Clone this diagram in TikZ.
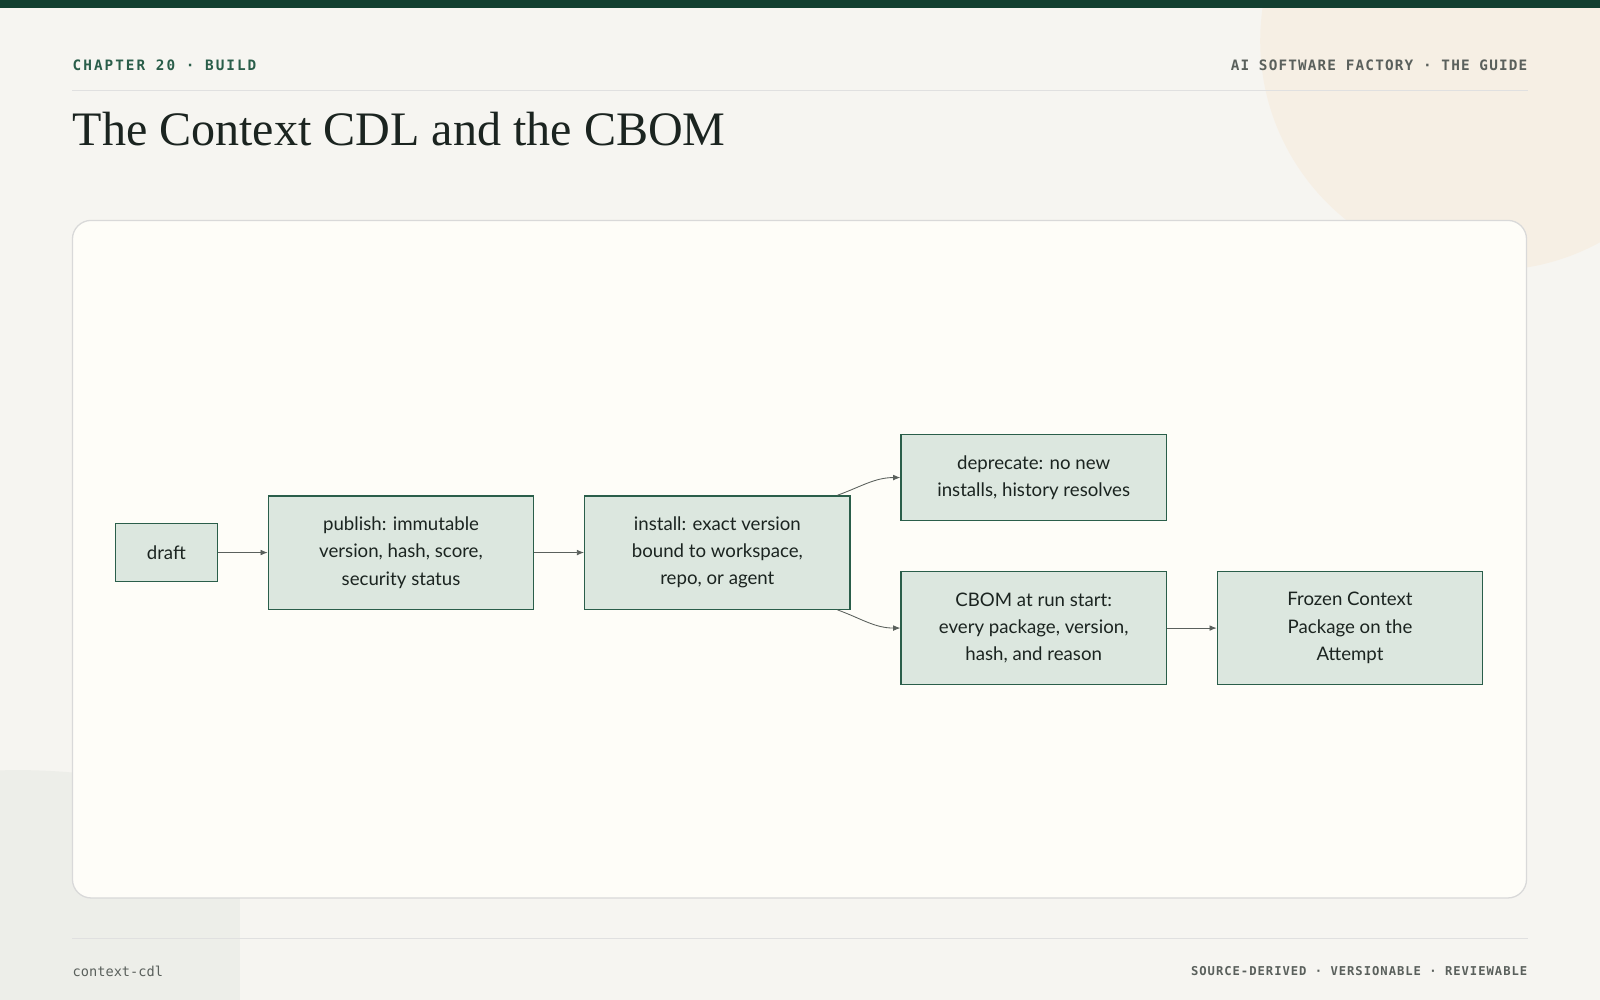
\documentclass[tikz,border=0pt]{standalone}
\usepackage{fontspec}
\setmainfont{Lato}
\newfontfamily\titlefont{Liberation Serif}
\newfontfamily\monofont{DejaVu Sans Mono}
\newfontfamily\widemono[LetterSpace=14]{DejaVu Sans Mono}
\newfontfamily\footmono[LetterSpace=8]{DejaVu Sans Mono}
\usetikzlibrary{positioning,arrows.meta}
\definecolor{paper}{HTML}{F6F5F1}
\definecolor{card}{HTML}{FEFDF8}
\definecolor{pine}{HTML}{123F30}
\definecolor{boxfill}{HTML}{DCE7DF}
\definecolor{boxline}{HTML}{2A5E4A}
\definecolor{peach}{HTML}{F6EFE4}
\definecolor{stone}{HTML}{EDEEE9}
\definecolor{ink}{HTML}{1B2420}
\definecolor{muted}{HTML}{5A605C}
\tikzset{
  stage/.style={draw=boxline, fill=boxfill, line width=0.9pt, align=center,
    font=\fontsize{13}{19}\selectfont, text=ink, minimum width=6.5cm, minimum height=2.775cm, inner sep=0pt},
  flow/.style={draw=muted, line width=0.6pt, -{Latex[length=5pt,width=4pt]}},
  label/.style={font=\widemono\bfseries\fontsize{10}{12}\selectfont, inner sep=0pt}
}
\begin{document}
\begin{tikzpicture}[x=0.025cm,y=-0.025cm]
  % page and decoration
  \useasboundingbox (0,0) rectangle (1568,980);
  \fill[paper] (0,0) rectangle (1568,980);
  \begin{scope}
    \clip (0,0) rectangle (1568,980);
    \fill[peach] (1460,40) circle (225);
    \fill[stone] (0,755) .. controls (80,752) and (235,770) .. (235,830) -- (235,980) -- (0,980) -- cycle;
  \end{scope}
  \fill[pine] (0,0) rectangle (1568,8);

  % header
  \node[label, anchor=west, text=boxline] (chap) at (71,64) {CHAPTER 20 · BUILD};
  \node[label, anchor=east, text=muted, font=\footmono\bfseries\fontsize{10}{12}\selectfont] (guide) at (1497,64) {AI SOFTWARE FACTORY · THE GUIDE};
  \draw[black!12, line width=0.6pt] (71,89) -- (1497,89);
  \node[anchor=base west, inner sep=0pt, text=ink, font=\titlefont\fontsize{33.5}{40}\selectfont] (title) at (71,143) {The Context CDL and the CBOM};

  % card
  \draw[fill=card, draw=black!15, line width=0.9pt, rounded corners=13pt] (71,216) rectangle (1496,880);

  % stages
  \node[stage, minimum width=2.5cm, minimum height=1.425cm] (draft) at (163,541.5) {draft};
  \node[stage] (publish) at (393,541.5) {publish: immutable\\version, hash, score,\\security status};
  \node[stage] (install) at (703,541.5) {install: exact version\\bound to workspace,\\repo, or agent};
  \node[stage, minimum height=2.1cm] (deprecate) at (1013,468) {deprecate: no new\\installs, history resolves};
  \node[stage] (cbom) at (1013,615.5) {CBOM at run start:\\every package, version,\\hash, and reason};
  \node[stage] (frozen) at (1323,615.5) {Frozen Context\\Package on the\\Attempt};

  % connectors
  \draw[flow] (draft) -- (publish);
  \draw[flow] (publish) -- (install);
  \draw[flow] ([xshift=-0.325cm]install.north east) to[out=20, in=180] (deprecate.west);
  \draw[flow] ([xshift=-0.325cm]install.south east) to[out=-20, in=180] (cbom.west);
  \draw[flow] (cbom) -- (frozen);

  % footer
  \draw[black!12, line width=0.6pt] (71,920) -- (1497,920);
  \node[label, anchor=west, text=muted, font=\monofont\fontsize{9.5}{12}\selectfont] (slug) at (71,952) {context-cdl};
  \node[label, anchor=east, text=muted, font=\footmono\bfseries\fontsize{8.5}{12}\selectfont] (tags) at (1497,952) {SOURCE-DERIVED · VERSIONABLE · REVIEWABLE};
\end{tikzpicture}
\end{document}
